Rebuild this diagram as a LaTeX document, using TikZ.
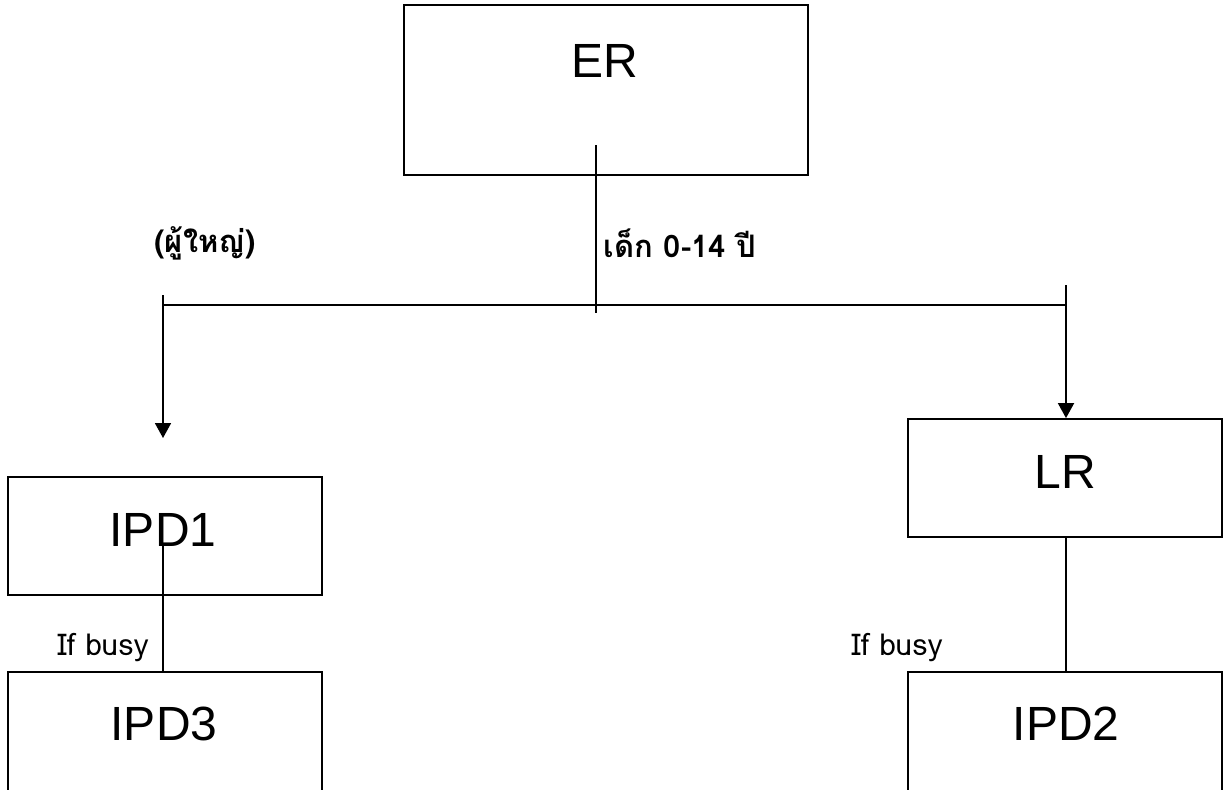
\documentclass[tikz,border=0pt]{standalone}
\usepackage{fontspec}
\setmainfont{Liberation Sans}
\newfontfamily\thaifont[Script=Thai]{Loma}
\usetikzlibrary{arrows.meta}

\begin{document}
\begin{tikzpicture}[x=0.5pt, y=-0.5pt,
    box/.style={draw, line width=0.9pt, inner sep=0pt},
    boxtext/.style={font=\fontsize{24}{28}\selectfont, inner sep=0pt},
    note/.style={font=\thaifont\bfseries\fontsize{15.5}{18}\selectfont, inner sep=0pt},
    busy/.style={font=\thaifont\fontsize{15}{18}\selectfont, inner sep=0pt},
    link/.style={line width=0.9pt},
    >={Triangle[length=7.5pt, width=8pt]}]
            \clip (0,0) rectangle (1224,789);
            % boxes
            \node[box, minimum width=202pt, minimum height=85pt] (er) at (606,90) {};
            \node[box, minimum width=157pt, minimum height=59pt] (ipdone) at (165,536) {};
            \node[box, minimum width=157pt, minimum height=59pt] (lr) at (1065,478) {};
            \node[box, minimum width=157pt, minimum height=120pt] (ipdthree) at (165,792) {};
            \node[box, minimum width=157pt, minimum height=120pt] (ipdtwo) at (1065,792) {};
            % box texts
            \node[boxtext] (ertext) at (605,61) {ER};
            \node[boxtext] (ipdonetext) at (163,530) {IPD1};
            \node[boxtext] (lrtext) at (1065,472) {LR};
            \node[boxtext] (ipdthreetext) at (164,724) {IPD3};
            \node[boxtext] (ipdtwotext) at (1066,724) {IPD2};
            % labels
            \node[note] (adult) at (205,243) {(ผู้ใหญ่)};
            \node[note] (child) at (680,243) {เด็ก 0-14 ปี};
            \node[busy] (busyleft) at (103,648) {If busy};
            \node[busy] (busyright) at (897,648) {If busy};
            % connectors
            \coordinate (ertail) at (596,145);
            \coordinate (erfoot) at (596,313);
            \coordinate (barleft) at (163,305);
            \coordinate (barright) at (1066,305);
            \coordinate (lefttop) at (163,295);
            \coordinate (lefttip) at (163,438);
            \coordinate (righttop) at (1066,285);
            \coordinate (ipdonetail) at (163,546);
            \draw[link] (ertail) -- (erfoot);
            \draw[link] (barleft) -- (barright);
            \draw[link, ->] (lefttop) -- (lefttip);
            \draw[link, ->] (righttop) -- (lr.north -| righttop);
            \draw[link] (ipdonetail) -- (ipdonetail |- ipdthree.north);
            \draw[link] (lr.south -| righttop) -- (ipdtwo.north -| righttop);
        \end{tikzpicture}
\end{document}
